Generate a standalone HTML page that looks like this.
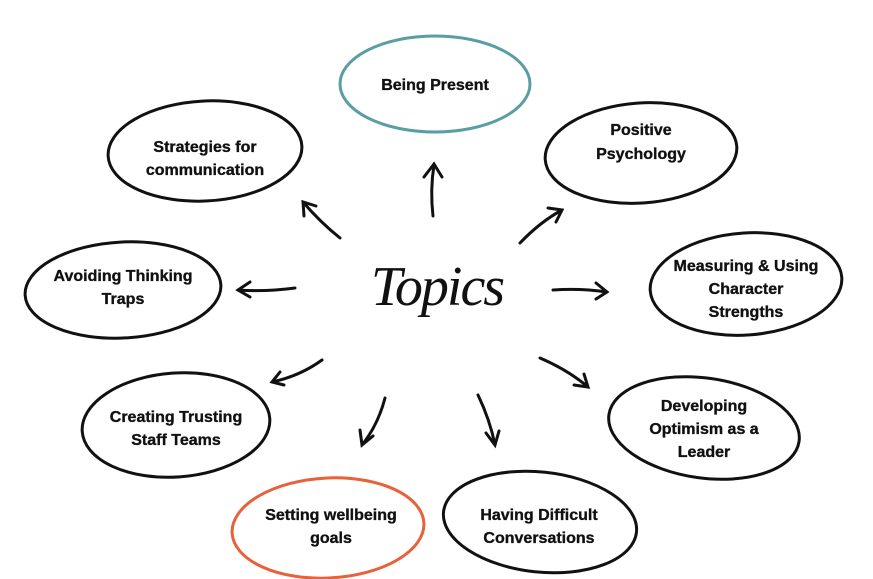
<!DOCTYPE html>
<html><head><meta charset="utf-8"><style>
html,body{margin:0;padding:0;background:#fff;}
svg{display:block}
text{font-family:"Liberation Sans",sans-serif;font-weight:bold;font-size:16px;fill:#111;stroke:#111;stroke-width:0.35px;text-anchor:middle}
</style></head><body>
<svg width="873" height="579" viewBox="0 0 873 579" xmlns="http://www.w3.org/2000/svg">
<g fill="none" stroke="#111" stroke-width="3" stroke-linecap="round">
<ellipse cx="435" cy="84" rx="95" ry="48" stroke="#5a9ea3"/>
<ellipse cx="641" cy="153" rx="96" ry="50" transform="rotate(-4 641 153)"/>
<ellipse cx="205" cy="151" rx="97" ry="50" transform="rotate(-3 205 151)"/>
<ellipse cx="123" cy="290" rx="98" ry="48" transform="rotate(-3 123 290)"/>
<ellipse cx="746" cy="284" rx="96" ry="51" transform="rotate(-4 746 284)"/>
<ellipse cx="176" cy="425" rx="94" ry="52" transform="rotate(-4 176 425)"/>
<ellipse cx="704" cy="428" rx="96" ry="50" transform="rotate(8 704 428)"/>
<ellipse cx="328" cy="528" rx="96" ry="50" stroke="#e8613a" transform="rotate(-3 328 528)"/>
<ellipse cx="540" cy="522" rx="97" ry="50" transform="rotate(6 540 522)"/>
<path d="M433 216 Q430 190 434 165 M424 177 L434 164 L442 177"/>
<path d="M520 243 Q540 222 562 210 M548 208 L562 210 L556 222"/>
<path d="M340 238 Q320 222 303 202 M304 216 L303 202 L316 206"/>
<path d="M295 288 Q265 292 238 290 M250 282 L238 290 L250 297"/>
<path d="M553 290 Q580 288 607 292 M596 283 L607 292 L596 299"/>
<path d="M322 360 Q300 376 272 382 M280 372 L272 382 L284 385"/>
<path d="M540 358 Q568 370 588 387 M574 385 L588 387 L584 374"/>
<path d="M385 398 Q378 425 362 445 M360 430 L362 445 L373 436"/>
<path d="M478 395 Q490 420 495 445 M486 433 L495 445 L499 431"/>
</g>
<text x="435" y="90">Being Present</text>
<text x="641" y="135">Positive</text><text x="641" y="159">Psychology</text>
<text x="205" y="152">Strategies for</text><text x="205" y="175">communication</text>
<text x="123" y="281">Avoiding Thinking</text><text x="123" y="304">Traps</text>
<text x="746" y="271">Measuring &amp; Using</text><text x="746" y="294">Character</text><text x="746" y="317">Strengths</text>
<text x="176" y="422">Creating Trusting</text><text x="176" y="445">Staff Teams</text>
<text x="704" y="411">Developing</text><text x="704" y="434">Optimism as a</text><text x="704" y="457">Leader</text>
<text x="331" y="520">Setting wellbeing</text><text x="331" y="543">goals</text>
<text x="539" y="520">Having Difficult</text><text x="539" y="543">Conversations</text>
<text x="437" y="305" style="font-family:'Liberation Serif',serif;font-style:italic;font-weight:normal;font-size:56px;letter-spacing:-2px;stroke:none">Topics</text>
</svg>
</body></html>
